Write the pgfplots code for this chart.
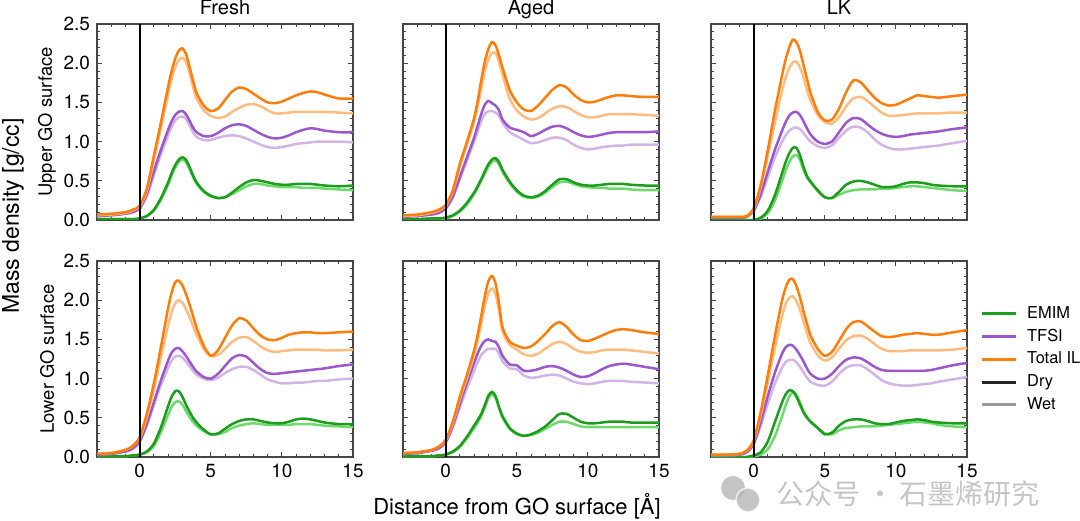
\documentclass[border=0pt]{standalone}
\usepackage{fontspec}
\setmainfont{TeX Gyre Heros}
\newfontfamily\cjk{Noto Sans CJK SC}
\usepackage{pgfplots}
\usepackage{pgfplotstable}
\pgfplotsset{compat=1.18}

\definecolor{emD}{RGB}{28,158,28}
\definecolor{emW}{RGB}{110,218,110}
\definecolor{tfD}{RGB}{155,88,205}
\definecolor{tfW}{RGB}{210,180,230}
\definecolor{ilD}{RGB}{255,125,10}
\definecolor{ilW}{RGB}{255,188,128}
\definecolor{frame}{RGB}{70,70,70}

% columns: x, EMIM dry/wet, TFSI dry/wet, total IL dry/wet
\pgfplotstableread{
x    Ed   Ew   Td   Tw   Ld   Lw
-3   0.01 0.01 0.05 0.05 0.07 0.06
-2   0.01 0.01 0.06 0.06 0.08 0.07
-1   0.01 0.01 0.08 0.08 0.10 0.09
-0.5 0.01 0.01 0.10 0.10 0.13 0.12
0    0.02 0.02 0.15 0.14 0.18 0.17
0.5  0.05 0.05 0.33 0.30 0.40 0.37
1    0.13 0.12 0.62 0.57 0.82 0.76
1.5  0.28 0.26 0.90 0.84 1.25 1.18
2    0.48 0.45 1.15 1.08 1.70 1.60
2.25 0.60 0.57 1.26 1.19 1.90 1.80
2.5  0.70 0.67 1.34 1.27 2.06 1.95
2.75 0.77 0.74 1.38 1.31 2.16 2.04
3    0.80 0.77 1.39 1.32 2.19 2.07
3.25 0.77 0.74 1.35 1.29 2.12 2.02
3.5  0.68 0.65 1.27 1.21 1.96 1.88
3.75 0.57 0.55 1.18 1.12 1.78 1.70
4    0.48 0.46 1.12 1.06 1.62 1.55
4.5  0.37 0.36 1.07 1.02 1.46 1.40
5    0.31 0.30 1.07 1.02 1.39 1.33
5.5  0.28 0.28 1.11 1.05 1.42 1.30
6    0.29 0.29 1.17 1.07 1.53 1.32
6.5  0.35 0.33 1.21 1.08 1.64 1.38
7    0.42 0.38 1.22 1.07 1.69 1.43
7.5  0.48 0.43 1.20 1.04 1.67 1.47
8    0.51 0.46 1.15 1.00 1.61 1.48
8.5  0.50 0.46 1.10 0.96 1.55 1.45
9    0.48 0.44 1.06 0.93 1.50 1.40
9.5  0.46 0.43 1.04 0.92 1.49 1.36
10   0.45 0.42 1.05 0.93 1.51 1.36
10.5 0.45 0.42 1.08 0.95 1.55 1.37
11   0.46 0.42 1.12 0.97 1.59 1.38
11.5 0.46 0.41 1.15 0.98 1.62 1.38
12   0.46 0.41 1.17 0.99 1.64 1.38
12.5 0.45 0.41 1.16 1.00 1.63 1.38
13   0.44 0.40 1.14 1.00 1.60 1.38
14   0.43 0.39 1.12 1.00 1.55 1.37
15   0.44 0.38 1.12 0.99 1.55 1.36
}\FreshUp

\pgfplotstableread{
x    Ed   Ew   Td   Tw   Ld   Lw
-3   0.01 0.01 0.04 0.04 0.06 0.05
-2   0.01 0.01 0.05 0.05 0.07 0.06
-1   0.02 0.02 0.07 0.07 0.10 0.09
-0.5 0.02 0.02 0.09 0.09 0.13 0.12
0    0.03 0.02 0.15 0.14 0.19 0.18
0.5  0.06 0.05 0.30 0.28 0.38 0.36
1    0.12 0.11 0.55 0.52 0.72 0.68
1.5  0.22 0.20 0.80 0.76 1.00 0.96
2    0.35 0.33 1.05 1.00 1.30 1.25
2.25 0.43 0.41 1.20 1.13 1.52 1.45
2.5  0.52 0.50 1.35 1.26 1.78 1.68
2.75 0.62 0.59 1.47 1.35 2.02 1.90
3    0.71 0.68 1.52 1.39 2.18 2.05
3.25 0.77 0.74 1.49 1.39 2.27 2.13
3.5  0.79 0.76 1.46 1.37 2.23 2.13
3.75 0.74 0.71 1.40 1.33 2.10 2.02
4    0.64 0.61 1.28 1.24 1.94 1.85
4.5  0.49 0.47 1.18 1.12 1.66 1.55
5    0.38 0.36 1.15 1.07 1.50 1.40
5.5  0.31 0.30 1.12 1.02 1.41 1.32
6    0.29 0.28 1.07 0.98 1.39 1.28
6.5  0.31 0.30 1.10 0.99 1.46 1.30
7    0.37 0.35 1.15 1.02 1.56 1.36
7.5  0.45 0.42 1.19 1.05 1.66 1.42
8    0.52 0.48 1.20 1.05 1.72 1.45
8.5  0.52 0.49 1.17 1.02 1.69 1.44
9    0.48 0.46 1.12 0.96 1.60 1.39
9.5  0.45 0.43 1.08 0.92 1.53 1.34
10   0.44 0.42 1.06 0.90 1.50 1.31
10.5 0.44 0.41 1.07 0.91 1.51 1.31
11   0.45 0.41 1.09 0.93 1.54 1.33
11.5 0.46 0.40 1.11 0.94 1.57 1.35
12   0.46 0.40 1.12 0.95 1.59 1.35
12.5 0.46 0.40 1.12 0.95 1.59 1.35
13   0.45 0.39 1.12 0.96 1.58 1.35
14   0.44 0.38 1.12 0.96 1.57 1.34
15   0.44 0.38 1.13 0.96 1.57 1.33
}\AgedUp

\pgfplotstableread{
x    Ed   Ew   Td   Tw   Ld   Lw
-3   0.00 0.00 0.03 0.03 0.04 0.04
-2   0.00 0.00 0.03 0.03 0.04 0.04
-1   0.00 0.00 0.03 0.03 0.04 0.04
-0.5 0.00 0.00 0.04 0.04 0.05 0.05
0    0.00 0.00 0.12 0.12 0.15 0.14
0.5  0.03 0.02 0.33 0.30 0.45 0.42
1    0.12 0.09 0.62 0.55 0.90 0.82
1.5  0.32 0.25 0.90 0.80 1.40 1.25
2    0.60 0.50 1.14 1.00 1.85 1.65
2.25 0.74 0.63 1.25 1.08 2.05 1.82
2.5  0.85 0.74 1.33 1.14 2.20 1.94
2.75 0.92 0.81 1.37 1.17 2.30 2.01
3    0.92 0.83 1.38 1.18 2.27 2.02
3.25 0.83 0.77 1.34 1.16 2.16 1.95
3.5  0.68 0.64 1.26 1.11 1.98 1.82
3.75 0.56 0.54 1.17 1.05 1.80 1.66
4    0.49 0.48 1.09 1.00 1.62 1.52
4.5  0.38 0.37 1.00 0.94 1.38 1.34
5    0.29 0.29 0.97 0.92 1.27 1.25
5.5  0.28 0.28 1.00 0.95 1.28 1.23
6    0.36 0.32 1.12 1.05 1.42 1.31
6.5  0.45 0.36 1.24 1.14 1.63 1.45
7    0.49 0.38 1.30 1.19 1.78 1.55
7.5  0.50 0.39 1.29 1.18 1.76 1.57
8    0.48 0.39 1.22 1.12 1.66 1.52
8.5  0.45 0.39 1.15 1.03 1.56 1.44
9    0.42 0.40 1.10 0.96 1.49 1.37
9.5  0.42 0.40 1.07 0.92 1.46 1.33
10   0.43 0.41 1.06 0.90 1.47 1.33
10.5 0.46 0.42 1.07 0.90 1.51 1.34
11   0.48 0.43 1.09 0.91 1.55 1.35
11.5 0.48 0.43 1.10 0.92 1.59 1.36
12   0.47 0.42 1.11 0.93 1.58 1.36
12.5 0.45 0.41 1.12 0.94 1.57 1.36
13   0.44 0.40 1.13 0.95 1.56 1.36
14   0.43 0.38 1.16 0.98 1.58 1.37
15   0.43 0.37 1.18 1.01 1.60 1.37
}\LKUp

\pgfplotstableread{
x    Ed   Ew   Td   Tw   Ld   Lw
-3   0.01 0.01 0.03 0.03 0.04 0.04
-2   0.01 0.01 0.04 0.04 0.05 0.05
-1   0.01 0.01 0.07 0.07 0.09 0.09
-0.5 0.02 0.02 0.11 0.10 0.14 0.14
0    0.03 0.03 0.20 0.19 0.25 0.24
0.5  0.07 0.06 0.42 0.40 0.55 0.50
1    0.17 0.14 0.70 0.66 0.94 0.86
1.5  0.38 0.32 0.98 0.92 1.41 1.28
2    0.65 0.54 1.23 1.14 1.90 1.68
2.25 0.77 0.64 1.33 1.23 2.10 1.85
2.5  0.84 0.70 1.38 1.28 2.23 1.96
2.75 0.84 0.71 1.39 1.29 2.25 2.00
3    0.77 0.67 1.35 1.27 2.19 1.97
3.25 0.67 0.59 1.29 1.22 2.08 1.89
3.5  0.58 0.51 1.22 1.16 1.95 1.79
3.75 0.50 0.45 1.15 1.10 1.80 1.67
4    0.44 0.40 1.09 1.05 1.65 1.56
4.5  0.35 0.33 1.02 1.00 1.42 1.38
5    0.29 0.29 1.00 0.98 1.29 1.29
5.5  0.30 0.29 1.06 1.01 1.36 1.30
6    0.36 0.32 1.16 1.07 1.52 1.38
6.5  0.42 0.37 1.26 1.12 1.68 1.47
7    0.46 0.40 1.30 1.15 1.77 1.52
7.5  0.48 0.42 1.28 1.15 1.74 1.53
8    0.48 0.43 1.20 1.11 1.64 1.48
8.5  0.46 0.42 1.12 1.05 1.55 1.41
9    0.44 0.41 1.07 0.99 1.50 1.36
9.5  0.43 0.41 1.06 0.96 1.49 1.34
10   0.43 0.41 1.07 0.94 1.52 1.35
10.5 0.45 0.41 1.08 0.94 1.56 1.36
11   0.48 0.42 1.09 0.95 1.58 1.37
11.5 0.49 0.42 1.10 0.95 1.59 1.37
12   0.48 0.42 1.11 0.96 1.59 1.37
12.5 0.46 0.41 1.12 0.97 1.58 1.37
13   0.44 0.40 1.13 0.97 1.58 1.36
14   0.42 0.39 1.16 0.99 1.59 1.36
15   0.42 0.38 1.18 1.00 1.60 1.37
}\FreshLow

\pgfplotstableread{
x    Ed   Ew   Td   Tw   Ld   Lw
-3   0.01 0.01 0.04 0.04 0.05 0.05
-2   0.01 0.01 0.05 0.05 0.06 0.06
-1   0.01 0.01 0.08 0.08 0.09 0.09
-0.5 0.02 0.02 0.11 0.11 0.13 0.13
0    0.03 0.03 0.19 0.18 0.22 0.21
0.5  0.07 0.06 0.40 0.37 0.45 0.43
1    0.14 0.13 0.68 0.63 0.77 0.74
1.5  0.26 0.24 0.95 0.88 1.05 1.01
2    0.40 0.37 1.20 1.10 1.36 1.30
2.25 0.47 0.44 1.32 1.21 1.56 1.49
2.5  0.55 0.52 1.42 1.30 1.80 1.70
2.75 0.66 0.63 1.48 1.35 2.05 1.92
3    0.78 0.75 1.50 1.38 2.24 2.09
3.25 0.83 0.80 1.48 1.38 2.31 2.15
3.5  0.78 0.76 1.47 1.38 2.22 2.08
3.75 0.64 0.62 1.40 1.32 1.96 1.86
4    0.52 0.50 1.29 1.22 1.65 1.60
4.5  0.37 0.36 1.18 1.13 1.47 1.43
5    0.30 0.29 1.17 1.12 1.42 1.37
5.5  0.27 0.27 1.10 1.04 1.39 1.31
6    0.29 0.28 1.10 1.01 1.41 1.29
6.5  0.33 0.31 1.12 1.02 1.48 1.32
7    0.39 0.36 1.15 1.04 1.57 1.38
7.5  0.47 0.41 1.16 1.05 1.67 1.44
8    0.55 0.45 1.14 1.04 1.72 1.47
8.5  0.55 0.45 1.10 1.00 1.66 1.44
9    0.50 0.42 1.05 0.96 1.56 1.38
9.5  0.45 0.39 1.02 0.94 1.49 1.34
10   0.43 0.38 1.03 0.93 1.48 1.33
10.5 0.43 0.38 1.07 0.94 1.51 1.34
11   0.44 0.38 1.12 0.96 1.55 1.36
11.5 0.45 0.38 1.16 0.97 1.59 1.37
12   0.45 0.38 1.18 0.97 1.62 1.37
12.5 0.45 0.38 1.19 0.97 1.63 1.37
13   0.44 0.38 1.18 0.96 1.62 1.36
14   0.44 0.38 1.15 0.95 1.59 1.34
15   0.44 0.38 1.12 0.94 1.57 1.32
}\AgedLow

\pgfplotstableread{
x    Ed   Ew   Td   Tw   Ld   Lw
-3   0.00 0.00 0.02 0.02 0.03 0.03
-2   0.00 0.00 0.02 0.02 0.03 0.03
-1   0.00 0.00 0.03 0.03 0.04 0.04
-0.5 0.00 0.00 0.06 0.06 0.08 0.08
0    0.02 0.01 0.17 0.16 0.21 0.20
0.5  0.06 0.03 0.45 0.40 0.58 0.54
1    0.20 0.10 0.78 0.68 1.05 0.96
1.5  0.45 0.27 1.08 0.94 1.55 1.40
2    0.70 0.52 1.32 1.14 2.00 1.80
2.25 0.80 0.66 1.40 1.21 2.16 1.95
2.5  0.85 0.77 1.43 1.24 2.26 2.03
2.75 0.84 0.83 1.42 1.24 2.27 2.05
3    0.77 0.80 1.37 1.21 2.18 1.99
3.25 0.67 0.70 1.30 1.15 2.04 1.88
3.5  0.57 0.59 1.22 1.08 1.86 1.73
3.75 0.50 0.51 1.13 1.01 1.70 1.58
4    0.45 0.45 1.06 0.96 1.55 1.45
4.5  0.37 0.37 1.00 0.92 1.38 1.30
5    0.29 0.30 1.00 0.91 1.29 1.23
5.5  0.31 0.29 1.06 0.96 1.34 1.27
6    0.40 0.34 1.16 1.06 1.48 1.38
6.5  0.46 0.37 1.24 1.14 1.63 1.49
7    0.48 0.38 1.27 1.17 1.72 1.54
7.5  0.48 0.39 1.26 1.17 1.73 1.55
8    0.46 0.39 1.21 1.12 1.67 1.51
8.5  0.43 0.39 1.15 1.05 1.60 1.44
9    0.42 0.40 1.11 0.98 1.54 1.38
9.5  0.42 0.41 1.10 0.94 1.53 1.35
10   0.44 0.42 1.10 0.92 1.54 1.35
10.5 0.46 0.43 1.10 0.91 1.56 1.35
11   0.47 0.44 1.10 0.91 1.57 1.36
11.5 0.48 0.45 1.10 0.92 1.58 1.36
12   0.47 0.44 1.10 0.93 1.57 1.36
12.5 0.45 0.43 1.11 0.94 1.56 1.36
13   0.44 0.41 1.13 0.96 1.56 1.36
14   0.43 0.39 1.17 0.99 1.59 1.37
15   0.43 0.38 1.20 1.02 1.62 1.39
}\LKLow

\pgfplotsset{
  panel/.style={
    scale only axis, width=128pt, height=98pt,
    xmin=-3, xmax=15, ymin=0, ymax=2.5,
    xtick={0,5,10,15}, ytick={0,0.5,1,1.5,2,2.5},
    minor xtick={-2,-1,1,2,3,4,6,7,8,9,11,12,13,14},
    minor ytick={0.1,0.2,0.3,0.4,0.6,0.7,0.8,0.9,1.1,1.2,1.3,1.4,1.6,1.7,1.8,1.9,2.1,2.2,2.3,2.4},
    tick align=inside, xtick pos=both, ytick pos=both,
    major tick length=2.6pt, minor tick length=1.4pt,
    axis line style={draw=frame, line width=0.6pt},
    every tick/.append style={frame, line width=0.5pt},
    tick label style={font=\fontsize{9.5}{11}\selectfont},
    /pgf/number format/assume math mode=true,
    yticklabel style={/pgf/number format/.cd, fixed, fixed zerofill, precision=1},
    every axis title shift=0pt,
    title style={anchor=base, yshift=4.5pt, font=\fontsize{10}{12}\selectfont},
    ylabel style={at={(axis description cs:-0.195,0.5)}, anchor=center,
      font=\fontsize{9.2}{11}\selectfont},
  },
  curve/.style={line width=1.25pt, smooth, tension=0.45, forget plot},
}

% one panel: wet under dry, then the surface at x = 0
\newcommand{\panelcurves}[1]{%
  \addplot[curve, emW] table[x=x, y=Ew] {#1};
  \addplot[curve, emD] table[x=x, y=Ed] {#1};
  \addplot[curve, tfW] table[x=x, y=Tw] {#1};
  \addplot[curve, tfD] table[x=x, y=Td] {#1};
  \addplot[curve, ilW] table[x=x, y=Lw] {#1};
  \addplot[curve, ilD] table[x=x, y=Ld] {#1};
  \addplot[black, line width=1.1pt, forget plot] coordinates {(0,0) (0,2.5)};
}

\begin{document}
\begin{tikzpicture}
\path[use as bounding box] (0,0) rectangle (540pt,260pt);

% upper row
\begin{axis}[panel, at={(48.5pt,150pt)}, anchor=south west,
  title={Fresh}, ylabel={Upper GO surface}, xticklabels={}]
\panelcurves{\FreshUp}
\end{axis}
\begin{axis}[panel, at={(201.5pt,150pt)}, anchor=south west,
  title={Aged}, xticklabels={}, yticklabels={}]
\panelcurves{\AgedUp}
\end{axis}
\begin{axis}[panel, at={(355.5pt,150pt)}, anchor=south west,
  title={LK}, xticklabels={}, yticklabels={}]
\panelcurves{\LKUp}
\end{axis}

% lower row
\begin{axis}[panel, at={(48.5pt,31.5pt)}, anchor=south west,
  ylabel={Lower GO surface}]
\panelcurves{\FreshLow}
\end{axis}
\begin{axis}[panel, at={(201.5pt,31.5pt)}, anchor=south west,
  yticklabels={}]
\panelcurves{\AgedLow}
\end{axis}
\begin{axis}[panel, at={(355.5pt,31.5pt)}, anchor=south west,
  yticklabels={},
  legend style={at={(rel axis cs:1.05,0.787)}, anchor=north west,
    draw=none, fill=none, font=\fontsize{8.2}{10}\selectfont,
    row sep=0.9pt, column sep=3.5pt, inner sep=0pt, nodes={inner sep=1.5pt}},
  legend cell align=left,
  legend image code/.code={\draw[#1, line width=1.5pt] (0pt,0pt) -- (17pt,0pt);}]
\panelcurves{\LKLow}
\addlegendimage{emD}\addlegendentry{EMIM}
\addlegendimage{tfD}\addlegendentry{TFSI}
\addlegendimage{ilD}\addlegendentry{Total IL}
\addlegendimage{black!85}\addlegendentry{Dry}
\addlegendimage{black!40}\addlegendentry{Wet}
\end{axis}

% shared axis titles
\node[rotate=90, font=\fontsize{11.5}{13}\selectfont] at (6.5pt,152pt) {Mass density [g/cc]};
\node[anchor=base, font=\fontsize{11}{13}\selectfont] at (258.5pt,3pt) {Distance from GO surface [Å]};

% watermark, set just below the tick labels
\begin{scope}[opacity=0.75]
\fill[black!30] (366.5pt,16pt) circle (6pt);
\fill[black!30, draw=white, line width=0.8pt] (374pt,10pt) circle (6pt);
\node[font=\cjk\fontsize{14}{16}\selectfont, text=black!30] at (454pt,13pt)
  {公众号\hspace{3pt}·\hspace{3pt}石墨烯研究};
\end{scope}
\end{tikzpicture}
\end{document}
